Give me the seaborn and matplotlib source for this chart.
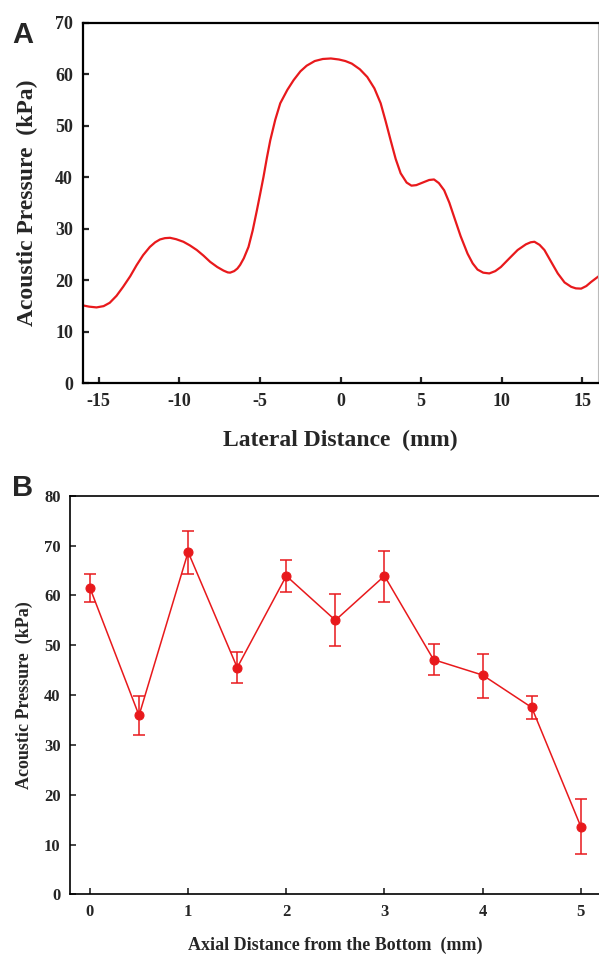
import numpy as np
import pandas as pd
import matplotlib
matplotlib.use("Agg")
import matplotlib.pyplot as plt
import seaborn as sns

# panel A: lateral profile
lateral_mm = [-16.08, -15.6, -15.14, -14.7, -14.32, -13.9, -13.49, -13.05, -12.65, -12.25,
              -11.83, -11.5, -11.2, -10.9, -10.58, -10.2, -9.75, -9.35, -8.92, -8.5,
              -8.09, -7.65, -7.26, -7.0, -6.85, -6.6, -6.4, -6.23, -6.0, -5.71,
              -5.45, -5.19, -4.98, -4.78, -4.57, -4.36, -4.05, -3.74, -3.3, -2.91,
              -2.49, -2.1, -1.6, -1.1, -0.6, -0.1, 0.3, 0.7, 1.2, 1.66,
              2.1, 2.49, 2.8, 3.11, 3.42, 3.73, 4.1, 4.4, 4.7, 5.18,
              5.5, 5.8, 6.1, 6.43, 6.75, 7.05, 7.45, 7.88, 8.2, 8.5,
              8.85, 9.23, 9.6, 9.95, 10.45, 10.99, 11.5, 11.8, 12.03, 12.35,
              12.65, 13.05, 13.48, 13.9, 14.31, 14.6, 14.93, 15.25, 15.55, 16.1]
lateral_kpa = [15.2, 14.9, 14.75, 15.0, 15.65, 17.0, 18.75, 20.8, 22.97, 24.9,
               26.5, 27.4, 27.95, 28.2, 28.27, 28.0, 27.5, 26.8, 25.9, 24.8,
               23.6, 22.6, 21.9, 21.55, 21.5, 21.8, 22.3, 23.0, 24.3, 26.5,
               29.7, 33.6, 36.9, 40.1, 43.8, 47.2, 51.2, 54.4, 57.0, 58.9,
               60.6, 61.7, 62.6, 63.0, 63.1, 62.9, 62.6, 62.1, 61.0, 59.5,
               57.3, 54.4, 50.9, 47.2, 43.6, 40.8, 39.0, 38.4, 38.5, 39.1,
               39.5, 39.6, 38.9, 37.5, 35.1, 32.3, 28.6, 25.2, 23.3, 22.1,
               21.5, 21.35, 21.8, 22.6, 24.2, 25.9, 27.0, 27.4, 27.5, 26.9,
               25.9, 23.7, 21.35, 19.6, 18.75, 18.45, 18.4, 18.9, 19.7, 21.0]

# panel B: axial measurements with asymmetric error bars
axial_mm = [0, 0.5, 1, 1.5, 2, 2.5, 3, 3.5, 4, 4.5, 5]
axial_kpa = [61.5, 35.9, 68.7, 45.5, 63.9, 55.0, 63.9, 47.1, 44.0, 37.5, 13.6]
err_top = [64.3, 39.9, 72.9, 48.7, 67.1, 60.3, 69.0, 50.2, 48.3, 39.9, 19.1]
err_bottom = [58.6, 31.9, 64.3, 42.4, 60.6, 49.9, 58.6, 44.0, 39.5, 35.1, 8.0]

RED = "#e8191c"


def style_axis(ax, spine_w, tick_size):
	for s in ["left", "bottom", "top"]:
		ax.spines[s].set_color("black")
		ax.spines[s].set_linewidth(spine_w)
	ax.spines["right"].set_color("#bbbbbb")
	ax.spines["right"].set_linewidth(0.8)
	ax.tick_params(direction="in", length=4, width=spine_w, labelsize=tick_size, pad=7)
	for lab in ax.get_xticklabels() + ax.get_yticklabels():
		lab.set_fontweight("bold")


def main():
	sns.set_style("ticks")
	plt.rcParams['font.family'] = ['Liberation Serif', 'DejaVu Serif']
	plt.rcParams['axes.unicode_minus'] = False

	fig = plt.figure(figsize=(5.99, 9.56), dpi=100)

	# ---- A ----
	axA = fig.add_axes([0.138, 0.599, 0.861, 0.377])
	dfA = pd.DataFrame({"x": lateral_mm, "y": lateral_kpa})
	sns.lineplot(data=dfA, x="x", y="y", ax=axA, color=RED, linewidth=1.6, sort=False)
	axA.set_xlim(-16, 16)
	axA.set_ylim(0, 70)
	axA.set_xticks([-15, -10, -5, 0, 5, 10, 15])
	axA.set_yticks(range(0, 71, 10))
	style_axis(axA, 1.6, 13)
	axA.set_xlabel("Lateral Distance  (mm)", fontsize=17, fontweight="bold", labelpad=14)
	axA.set_ylabel("Acoustic Pressure  (kPa)", fontsize=17, fontweight="bold", labelpad=12)

	# ---- B ----
	axB = fig.add_axes([0.1174, 0.0645, 0.885, 0.417])
	dfB = pd.DataFrame({"x": axial_mm, "y": axial_kpa})
	lower = np.array(axial_kpa) - np.array(err_bottom)
	upper = np.array(err_top) - np.array(axial_kpa)
	axB.errorbar(axial_mm, axial_kpa, yerr=[lower, upper], fmt="none", ecolor=RED,
				 elinewidth=1.1, capsize=4.5, capthick=1.1)
	sns.lineplot(data=dfB, x="x", y="y", ax=axB, color=RED, linewidth=1.1,
				 marker="o", markersize=6.5, markeredgecolor=RED)
	axB.set_xlim(-0.2, 5.2)
	axB.set_ylim(0, 80)
	axB.set_xticks([0, 1, 2, 3, 4, 5])
	axB.set_yticks(range(0, 81, 10))
	style_axis(axB, 1.2, 12)
	axB.spines["right"].set_visible(False)
	axB.set_xlabel("Axial Distance from the Bottom  (mm)", fontsize=13, fontweight="bold", labelpad=12)
	axB.set_ylabel("Acoustic Pressure  (kPa)", fontsize=13, fontweight="bold", labelpad=8)

	fig.text(0.02, 0.963, "A", fontsize=21, fontweight="bold", family="Liberation Sans", va="center")
	fig.text(0.02, 0.490, "B", fontsize=21, fontweight="bold", family="Liberation Sans", va="center")

	fig.savefig("out.png", dpi=100)


if __name__ == "__main__":
	main()
